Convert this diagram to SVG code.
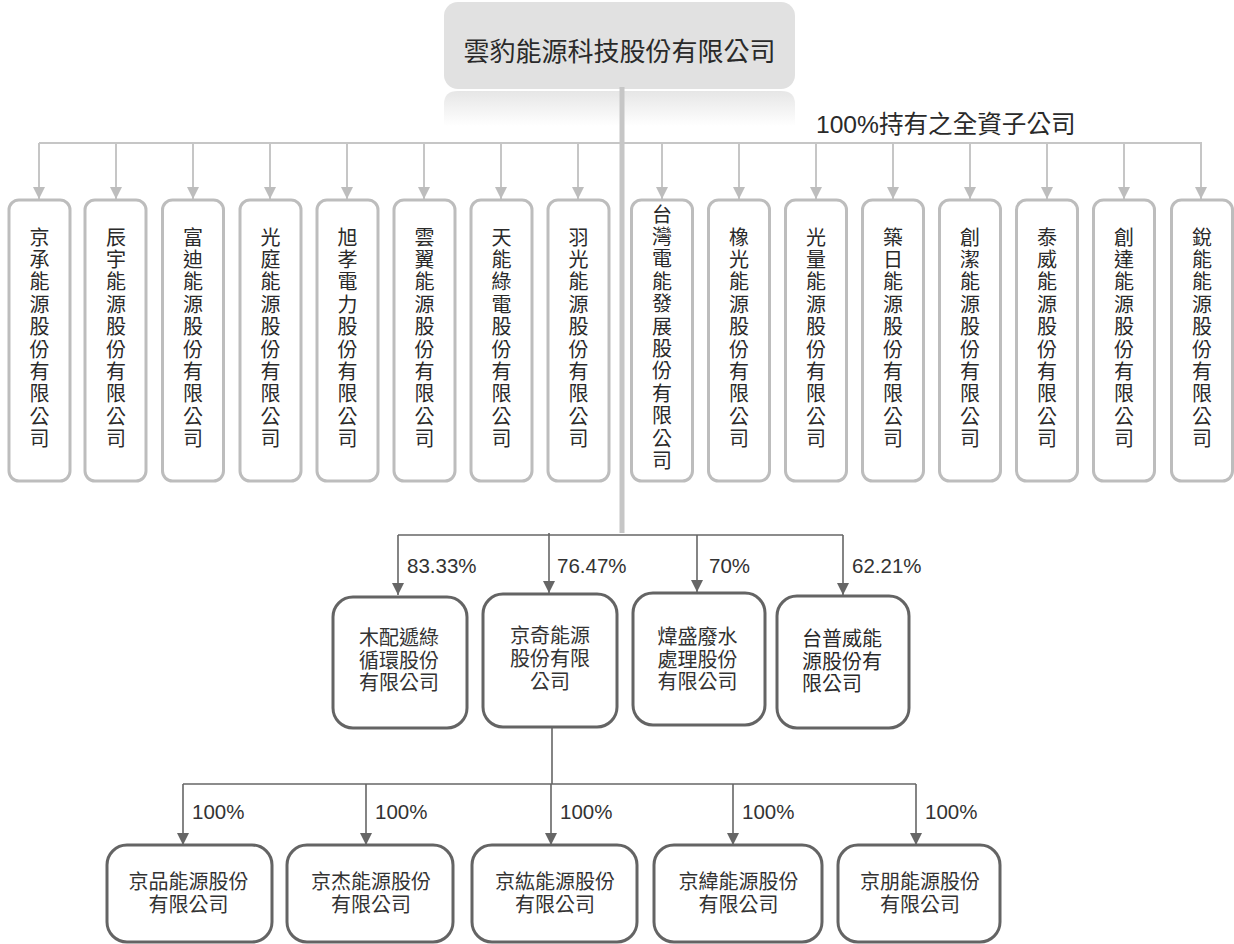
<svg xmlns="http://www.w3.org/2000/svg" width="1234" height="944" viewBox="0 0 1234 944">
<style>
.cjk{font-family:"Noto Sans CJK TC","Noto Sans CJK SC",sans-serif;fill:#2a2a2a}
.lat{font-family:"Liberation Sans","Noto Sans CJK TC",sans-serif;fill:#2a2a2a}
.vt{font-size:20px;writing-mode:vertical-rl;letter-spacing:2.4px}
.tb{fill:#fff;stroke:#bdbdbd;stroke-width:3}
.db{fill:#fff;stroke:#646464;stroke-width:3}
.mt{font-size:20px;text-anchor:middle;fill:#333}
.pct{font-size:20.5px;fill:#333}
.lc{stroke:#c6c6c6;stroke-width:2;fill:none}
.dc{stroke:#666;stroke-width:1.6;fill:none}
</style>
<defs>
<linearGradient id="refl" x1="0" y1="0" x2="0" y2="1">
<stop offset="0" stop-color="#e6e6e6"/>
<stop offset="1" stop-color="#ffffff"/>
</linearGradient>
<marker id="al" viewBox="0 0 12 12" refX="12" refY="6" markerWidth="12" markerHeight="12" markerUnits="userSpaceOnUse" orient="auto">
<path d="M0,0 L12,6 L0,12 z" fill="#bdbdbd"/>
</marker>
<marker id="ad" viewBox="0 0 12 12" refX="12" refY="6" markerWidth="12" markerHeight="12" markerUnits="userSpaceOnUse" orient="auto">
<path d="M0,0 L12,6 L0,12 z" fill="#666"/>
</marker>
</defs>
<rect width="1234" height="944" fill="#fff"/>

<g id="root">
<path d="M444,126 L444,104 Q444,91 458,91 L781,91 Q795,91 795,104 L795,126 Z" fill="url(#refl)"/>
<rect x="444" y="2" width="351" height="87" rx="14" fill="#e1e1e1"/>
<text class="cjk" x="619.5" y="60.5" font-size="26" text-anchor="middle">雲豹能源科技股份有限公司</text>
</g>

<g id="connectors">
<line x1="622" y1="87" x2="622" y2="533" stroke="#c6c6c6" stroke-width="5"/>
<line class="lc" x1="39" y1="143" x2="1202" y2="143"/>
<g marker-end="url(#al)" class="lc">
<line x1="39" y1="143" x2="39" y2="199"/>
<line x1="116" y1="143" x2="116" y2="199"/>
<line x1="193" y1="143" x2="193" y2="199"/>
<line x1="270" y1="143" x2="270" y2="199"/>
<line x1="347" y1="143" x2="347" y2="199"/>
<line x1="424" y1="143" x2="424" y2="199"/>
<line x1="501" y1="143" x2="501" y2="199"/>
<line x1="578" y1="143" x2="578" y2="199"/>
<line x1="662" y1="143" x2="662" y2="199"/>
<line x1="739" y1="143" x2="739" y2="199"/>
<line x1="816" y1="143" x2="816" y2="199"/>
<line x1="893" y1="143" x2="893" y2="199"/>
<line x1="970" y1="143" x2="970" y2="199"/>
<line x1="1047" y1="143" x2="1047" y2="199"/>
<line x1="1124" y1="143" x2="1124" y2="199"/>
<line x1="1201" y1="143" x2="1201" y2="199"/>
</g>
<line class="dc" x1="398" y1="535" x2="843" y2="535"/>
<g marker-end="url(#ad)" class="dc">
<line x1="398" y1="535" x2="398" y2="595"/>
<line x1="549" y1="533" x2="549" y2="593"/>
<line x1="697" y1="535" x2="697" y2="592"/>
<line x1="843" y1="535" x2="843" y2="595"/>
</g>
<line class="dc" x1="552" y1="727" x2="552" y2="784"/>
<line class="dc" x1="183" y1="784" x2="916" y2="784"/>
<g marker-end="url(#ad)" class="dc">
<line x1="183" y1="784" x2="183" y2="845"/>
<line x1="366" y1="784" x2="366" y2="845"/>
<line x1="551" y1="784" x2="551" y2="845"/>
<line x1="733" y1="784" x2="733" y2="845"/>
<line x1="916" y1="784" x2="916" y2="845"/>
</g>
<text class="lat" x="816" y="133" font-size="24.6">100%持有之全資子公司</text>
<text class="lat pct" x="407" y="573">83.33%</text>
<text class="lat pct" x="557" y="573">76.47%</text>
<text class="lat pct" x="709" y="573">70%</text>
<text class="lat pct" x="852" y="573">62.21%</text>
<text class="lat pct" x="192" y="819">100%</text>
<text class="lat pct" x="375" y="819">100%</text>
<text class="lat pct" x="560" y="819">100%</text>
<text class="lat pct" x="742" y="819">100%</text>
<text class="lat pct" x="925" y="819">100%</text>
</g>

<g id="n1"><rect class="tb" x="9" y="200" width="61" height="281" rx="10"/>
<text class="cjk vt" x="39.5" y="227">京承能源股份有限公司</text></g>
<g id="n2"><rect class="tb" x="85" y="200" width="61" height="281" rx="10"/>
<text class="cjk vt" x="116" y="227">辰宇能源股份有限公司</text></g>
<g id="n3"><rect class="tb" x="162.5" y="200" width="61" height="281" rx="10"/>
<text class="cjk vt" x="193" y="227">富迪能源股份有限公司</text></g>
<g id="n4"><rect class="tb" x="240" y="200" width="61" height="281" rx="10"/>
<text class="cjk vt" x="270.5" y="227">光庭能源股份有限公司</text></g>
<g id="n5"><rect class="tb" x="317" y="200" width="61" height="281" rx="10"/>
<text class="cjk vt" x="347.5" y="227">旭孝電力股份有限公司</text></g>
<g id="n6"><rect class="tb" x="394" y="200" width="61" height="281" rx="10"/>
<text class="cjk vt" x="424.5" y="227">雲翼能源股份有限公司</text></g>
<g id="n7"><rect class="tb" x="471" y="200" width="61" height="281" rx="10"/>
<text class="cjk vt" x="501.5" y="227">天能綠電股份有限公司</text></g>
<g id="n8"><rect class="tb" x="548" y="200" width="61" height="281" rx="10"/>
<text class="cjk vt" x="578.5" y="227">羽光能源股份有限公司</text></g>
<g id="n9"><rect class="tb" x="631.5" y="200" width="61" height="281" rx="10"/>
<text class="cjk vt" x="662" y="204">台灣電能發展股份有限公司</text></g>
<g id="n10"><rect class="tb" x="708.5" y="200" width="61" height="281" rx="10"/>
<text class="cjk vt" x="739" y="227">橡光能源股份有限公司</text></g>
<g id="n11"><rect class="tb" x="785.5" y="200" width="61" height="281" rx="10"/>
<text class="cjk vt" x="816" y="227">光量能源股份有限公司</text></g>
<g id="n12"><rect class="tb" x="862.5" y="200" width="61" height="281" rx="10"/>
<text class="cjk vt" x="893" y="227">築日能源股份有限公司</text></g>
<g id="n13"><rect class="tb" x="939.5" y="200" width="61" height="281" rx="10"/>
<text class="cjk vt" x="970" y="227">創潔能源股份有限公司</text></g>
<g id="n14"><rect class="tb" x="1016.5" y="200" width="61" height="281" rx="10"/>
<text class="cjk vt" x="1047" y="227">泰威能源股份有限公司</text></g>
<g id="n15"><rect class="tb" x="1093.5" y="200" width="61" height="281" rx="10"/>
<text class="cjk vt" x="1124" y="227">創達能源股份有限公司</text></g>
<g id="n16"><rect class="tb" x="1171.5" y="200" width="61" height="281" rx="10"/>
<text class="cjk vt" x="1202" y="227">銳能能源股份有限公司</text></g>

<g id="m1"><rect class="db" x="333" y="597" width="134" height="131" rx="20"/>
<text class="cjk mt"><tspan x="399" y="645">木配遞綠</tspan><tspan x="399" dy="22.5">循環股份</tspan><tspan x="399" dy="22.5">有限公司</tspan></text></g>
<g id="m2"><rect class="db" x="483" y="594" width="134" height="133" rx="20"/>
<text class="cjk mt"><tspan x="550" y="643">京奇能源</tspan><tspan x="550" dy="23">股份有限</tspan><tspan x="550" dy="23">公司</tspan></text></g>
<g id="m3"><rect class="db" x="633" y="593" width="132" height="132" rx="20"/>
<text class="cjk mt"><tspan x="697.5" y="644">煒盛廢水</tspan><tspan x="697.5" dy="22.5">處理股份</tspan><tspan x="697.5" dy="22.5">有限公司</tspan></text></g>
<g id="m4"><rect class="db" x="777" y="596" width="132" height="132" rx="20"/>
<text class="cjk" font-size="20" fill="#333"><tspan x="802" y="646">台普威能</tspan><tspan x="802" dy="22.5">源股份有</tspan><tspan x="802" dy="22.5">限公司</tspan></text></g>

<g id="b1"><rect class="db" x="107" y="845" width="165" height="97" rx="20"/>
<text class="cjk mt"><tspan x="188.5" y="888.5">京品能源股份</tspan><tspan x="188.5" dy="23">有限公司</tspan></text></g>
<g id="b2"><rect class="db" x="287" y="845" width="166" height="97" rx="20"/>
<text class="cjk mt"><tspan x="371" y="888.5">京杰能源股份</tspan><tspan x="371" dy="23">有限公司</tspan></text></g>
<g id="b3"><rect class="db" x="472" y="845" width="165" height="97" rx="20"/>
<text class="cjk mt"><tspan x="555" y="888.5">京紘能源股份</tspan><tspan x="555" dy="23">有限公司</tspan></text></g>
<g id="b4"><rect class="db" x="654" y="845" width="168" height="97" rx="20"/>
<text class="cjk mt"><tspan x="738.5" y="888.5">京緯能源股份</tspan><tspan x="738.5" dy="23">有限公司</tspan></text></g>
<g id="b5"><rect class="db" x="838" y="845" width="162" height="97" rx="20"/>
<text class="cjk mt"><tspan x="920" y="888.5">京朋能源股份</tspan><tspan x="920" dy="23">有限公司</tspan></text></g>
</svg>
